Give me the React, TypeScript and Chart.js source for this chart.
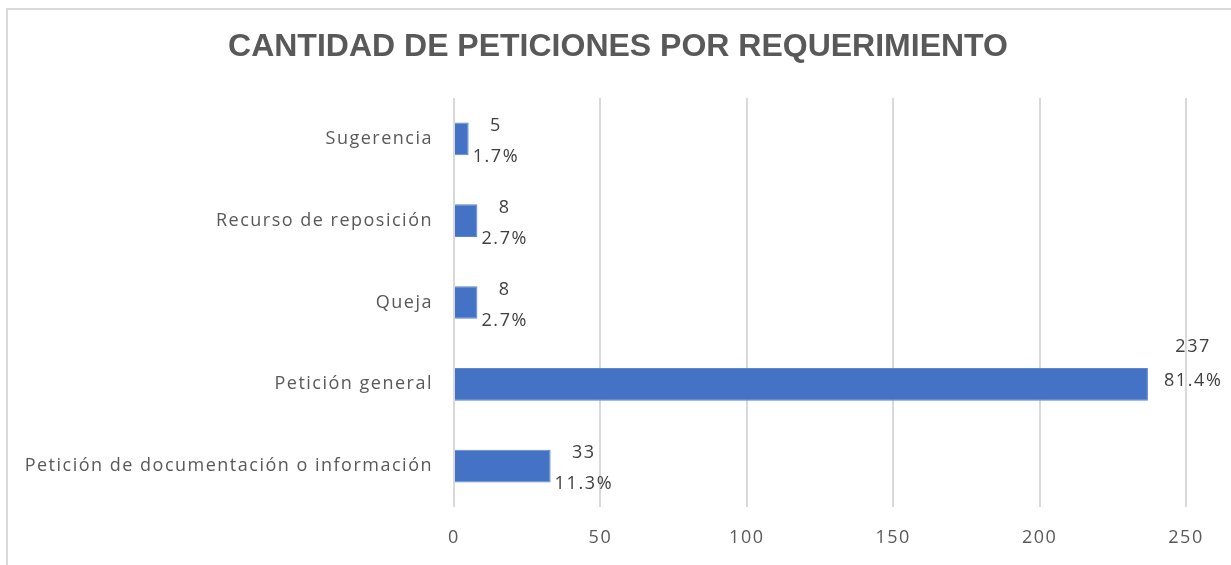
import React, { useEffect, useRef } from "react";
import { Chart, registerables } from "chart.js";

Chart.register(...registerables);

const categories = [
  "Sugerencia",
  "Recurso de reposición",
  "Queja",
  "Petición general",
  "Petición de documentación o información",
];
const values = [5, 8, 8, 237, 33];
const percents = ["1.7%", "2.7%", "2.7%", "81.4%", "11.3%"];
const xTicks = [0, 50, 100, 150, 200, 250];
const titleText = "CANTIDAD DE PETICIONES POR REQUERIMIENTO";

const FONT = "'Open Sans', Lato, sans-serif";
const SPACING = "1.5px";

const framePlugin = {
  id: "frame",
  beforeDraw(chart: any) {
    const ctx = chart.ctx;
    ctx.letterSpacing = SPACING;
    ctx.save();
    ctx.fillStyle = "#ffffff";
    ctx.fillRect(0, 0, chart.width, chart.height);
    ctx.strokeStyle = "#d9d9d9";
    ctx.lineWidth = 2;
    ctx.beginPath();
    ctx.moveTo(7, chart.height + 5);
    ctx.lineTo(7, 9);
    ctx.lineTo(chart.width + 5, 9);
    ctx.stroke();
    ctx.restore();
  },
  afterDraw(chart: any) {
    const ctx = chart.ctx;
    ctx.save();
    ctx.letterSpacing = "0px";
    ctx.fillStyle = "#595959";
    ctx.font = "bold 32px 'Liberation Sans', Arial, sans-serif";
    ctx.textAlign = "center";
    ctx.textBaseline = "middle";
    ctx.fillText(titleText, 618, 47);
    ctx.restore();
  },
};

const labelPlugin = {
  id: "barLabels",
  afterDatasetsDraw(chart: any) {
    const ctx = chart.ctx;
    const meta = chart.getDatasetMeta(0);
    ctx.save();
    ctx.letterSpacing = "1.6px";
    ctx.fillStyle = "#404040";
    ctx.font = "18px " + FONT;
    ctx.textAlign = "center";
    ctx.textBaseline = "middle";
    meta.data.forEach((bar: any, i: number) => {
      const l1 = String(values[i]);
      const l2 = percents[i];
      const w = Math.max(ctx.measureText(l1).width, ctx.measureText(l2).width);
      const overflow = bar.x + 5 + w > chart.chartArea.right;
      if (overflow) {
        const cx = bar.x + 16 + w / 2;
        ctx.fillText(l1, cx, bar.y - 37);
        ctx.fillText(l2, cx, bar.y - 3);
      } else {
        const cx = bar.x + 4 + w / 2;
        ctx.fillText(l1, cx, bar.y - 13);
        ctx.fillText(l2, cx, bar.y + 18);
      }
    });
    ctx.restore();
  },
};

export default function App() {
  const ref = useRef<HTMLCanvasElement>(null);
  useEffect(() => {
    document.body.style.margin = "0";
    const chart = new Chart(ref.current as HTMLCanvasElement, {
      type: "bar",
      data: {
        labels: categories,
        datasets: [
          {
            data: values,
            backgroundColor: "#4472C4",
            borderColor: "#5b85cf",
            borderWidth: 1,
            categoryPercentage: 1,
            barPercentage: 0.4,
          },
        ],
      },
      options: {
        indexAxis: "y",
        animation: false,
        responsive: false,
        maintainAspectRatio: false,
        layout: { padding: { top: 98, right: 45, left: 0, bottom: 0 } },
        plugins: {
          legend: { display: false },
          title: { display: false },
          tooltip: { enabled: false },
        },
        scales: {
          x: {
            min: 0,
            max: 250,
            afterBuildTicks(scale: any) {
              scale.ticks = xTicks.map((v) => ({ value: v }));
            },
            afterFit(scale: any) {
              scale.height = 58;
            },
            grid: { color: "#d9d9d9", lineWidth: 2, drawTicks: false },
            border: { display: false },
            ticks: {
              padding: 20,
              color: "#595959",
              font: { size: 18, family: FONT },
            },
          },
          y: {
            afterFit(scale: any) {
              scale.width = 454;
            },
            grid: { display: false, drawTicks: false },
            border: { display: false },
            ticks: {
              padding: 21,
              color: "#595959",
              font: { size: 18, family: FONT },
            },
          },
        },
      },
      plugins: [framePlugin, labelPlugin],
    });
    return () => chart.destroy();
  }, []);
  return (
    <canvas
      ref={ref}
      width={1231}
      height={565}
      style={{ display: "block", width: 1231, height: 565 }}
    />
  );
}
